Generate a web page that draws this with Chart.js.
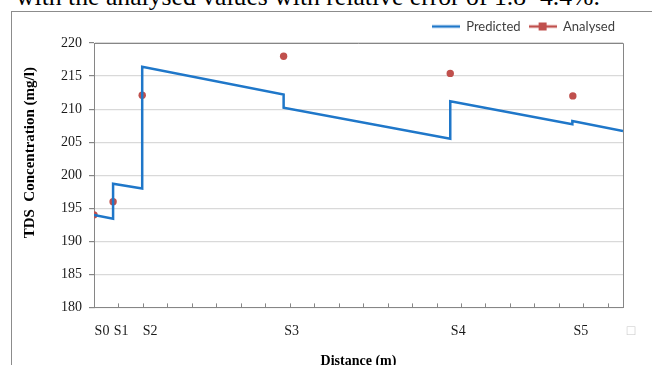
<!DOCTYPE html>
<html><head><meta charset="utf-8">
<script src="https://cdn.jsdelivr.net/npm/chart.js@4.4.0/dist/chart.umd.min.js"></script>
<style>
html,body{margin:0;padding:0;background:#fff;width:652px;height:365px;overflow:hidden;}
#cap{position:absolute;left:16px;top:-16.5px;font-family:"Liberation Serif";font-size:25.7px;line-height:1;white-space:nowrap;color:#000;}
#frame{position:absolute;left:11px;top:11px;width:700px;height:400px;border-left:1px solid #8c8c8c;border-top:1px solid #8c8c8c;}
#wrap{position:absolute;left:0;top:0;width:652px;height:365px;}
</style></head><body>
<div id="cap">with the analysed values with relative error of 1.8~4.4%.</div>
<div id="frame"></div>
<div id="wrap"><canvas id="c" width="652" height="365"></canvas></div>
<script>
// ---- data ----
const stationNames = ['S0', 'S1', 'S2', 'S3', 'S4', 'S5'];
const stationDist = [0, 390, 985, 3875, 7280, 9785];
const endLabel = '\u25A1';
const axisMax = 10810;
const tickStep = 500;
const predDist = [0, 390, 390, 985, 985, 3875, 3875, 7280, 7280, 9775, 9775, 10810];
const predTDS = [194.0, 193.4, 198.7, 198.0, 216.4, 212.2, 210.2, 205.5, 211.2, 207.7, 208.2, 206.7];
const analysedTDS = [194.0, 196.0, 212.1, 218.0, 215.4, 212.0];
const yTicks = [180, 185, 190, 195, 200, 205, 210, 215, 220];

const BLUE = '#1f77c9';
const RED = '#c0504d';
const AXIS = '#868686';

function legendImg(color, marker) {
  const c = document.createElement('canvas');
  c.width = 28; c.height = 10;
  const g = c.getContext('2d');
  g.strokeStyle = color; g.lineWidth = 2.5;
  g.beginPath(); g.moveTo(0, 5); g.lineTo(28, 5); g.stroke();
  if (marker) { g.fillStyle = color; g.fillRect(10, 1, 8, 8); }
  return c;
}
const legendImgs = [legendImg(BLUE, false), legendImg(RED, true)];

const labelTicks = stationDist.map((v, i) => ({ value: v, label: stationNames[i] }))
  .concat([{ value: axisMax, label: endLabel }]);

const decor = {
  id: 'decor',
  beforeDatasetsDraw(chart) {
    const { ctx, chartArea: a, scales: { x } } = chart;
    ctx.save();
    ctx.strokeStyle = AXIS; ctx.lineWidth = 1;
    ctx.beginPath();
    ctx.moveTo(a.left, Math.round(a.top) + 0.5); ctx.lineTo(Math.round(a.right) + 0.5, Math.round(a.top) + 0.5);
    ctx.lineTo(Math.round(a.right) + 0.5, a.bottom);
    ctx.stroke();
    for (let v = tickStep; v < axisMax; v += tickStep) {
      const px = Math.round(x.getPixelForValue(v)) + 0.5;
      ctx.beginPath(); ctx.moveTo(px, a.bottom); ctx.lineTo(px, a.bottom - 4); ctx.stroke();
    }
    ctx.restore();
  }
};

new Chart(document.getElementById('c'), {
  type: 'scatter',
  data: {
    datasets: [
      { label: 'Predicted', data: predDist.map((d, i) => ({ x: d, y: predTDS[i] })), showLine: true,
        borderColor: BLUE, backgroundColor: BLUE, borderWidth: 2.5, pointRadius: 0, tension: 0 },
      { label: 'Analysed', data: stationDist.map((d, i) => ({ x: d, y: analysedTDS[i] })), showLine: false,
        borderColor: RED, backgroundColor: RED, pointRadius: 3.7, pointBorderWidth: 0 }
    ]
  },
  options: {
    responsive: false, animation: false, devicePixelRatio: 1,
    layout: { padding: { left: 21, right: 29, top: 12, bottom: -3 } },
    plugins: {
      tooltip: { enabled: false },
      legend: {
        position: 'top', align: 'end',
        labels: {
          usePointStyle: true, pointStyleWidth: 28, boxHeight: 10, padding: 8,
          color: '#404040', font: { family: 'Lato', size: 13 },
          generateLabels: chart => chart.data.datasets.map((ds, i) => ({
            text: ds.label, pointStyle: legendImgs[i], fillStyle: ds.borderColor,
            strokeStyle: ds.borderColor, lineWidth: 0, hidden: false, datasetIndex: i, fontColor: '#404040'
          }))
        }
      }
    },
    scales: {
      x: {
        type: 'linear', min: 0, max: axisMax,
        afterBuildTicks: s => { s.ticks = labelTicks.map(t => ({ value: t.value })); },
        ticks: {
          autoSkip: false, maxRotation: 0, minRotation: 0, labelOffset: 8, padding: 18,
          font: { family: 'Liberation Serif', size: 14, lineHeight: 0.9 },
          color: ctx => (ctx.tick && ctx.tick.value === axisMax) ? '#c8c8c8' : '#1a1a1a',
          callback: (v) => { const t = labelTicks.find(t => t.value === v); return t ? t.label : ''; }
        },
        grid: { display: false, drawTicks: false },
        border: { display: true, color: AXIS, width: 1 },
        title: { display: true, text: 'Distance (m)', color: '#000', padding: { top: -2, bottom: 0 },
          font: { family: 'Liberation Serif', size: 14, weight: 'bold', lineHeight: 1.0 } }
      },
      y: {
        min: 180, max: 220,
        afterBuildTicks: s => { s.ticks = yTicks.map(v => ({ value: v })); },
        ticks: { padding: 7, color: '#1a1a1a', font: { family: 'Liberation Serif', size: 14, lineHeight: 0.75 } },
        grid: { color: '#d9d9d9', lineWidth: 1.2, tickColor: AXIS, tickLength: 5, drawTicks: true },
        border: { display: true, color: AXIS, width: 1 },
        title: { display: true, text: '\u00a0\u00a0\u00a0\u00a0\u00a0\u00a0\u00a0\u00a0\u00a0\u00a0\u00a0\u00a0TDS  Concentration (mg/l)', color: '#000',
          padding: { top: 0, bottom: 15 },
          font: { family: 'Liberation Serif', size: 15, weight: 'bold' } }
      }
    }
  },
  plugins: [decor]
});
</script>
</body></html>
